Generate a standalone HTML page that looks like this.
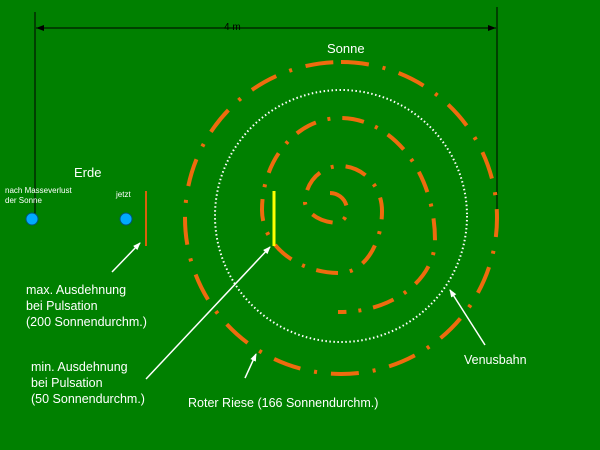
<!DOCTYPE html>
<html><head><meta charset="utf-8"><style>
html,body{margin:0;padding:0;background:#008000;}
svg{display:block;}
text{font-family:"Liberation Sans",sans-serif;fill:#fff;}
</style></head><body>
<svg width="600" height="450" viewBox="0 0 600 450" xmlns="http://www.w3.org/2000/svg">
<rect width="600" height="450" fill="#008000"/>
<defs>
<marker id="ab" markerWidth="8" markerHeight="6" refX="8" refY="3" orient="auto" markerUnits="userSpaceOnUse"><path d="M0,0 L8,3 L0,6 z" fill="#000"/></marker>
<marker id="aw" markerWidth="8" markerHeight="6" refX="7" refY="3" orient="auto" markerUnits="userSpaceOnUse"><path d="M0,0 L8,3 L0,6 z" fill="#fff"/></marker>
</defs>
<line x1="35" y1="12" x2="35" y2="218" stroke="#000" stroke-width="1"/>
<line x1="497" y1="7" x2="497" y2="220" stroke="#000" stroke-width="1"/>
<line x1="36" y1="28" x2="496" y2="28" stroke="#000" stroke-width="1" marker-end="url(#ab)"/>
<line x1="496" y1="28" x2="36" y2="28" stroke="#000" stroke-width="1" marker-end="url(#ab)"/>
<text x="224" y="30" font-size="10" style="fill:#000">4 m</text>
<circle cx="341" cy="216" r="126" fill="none" stroke="#fff" stroke-width="2" stroke-dasharray="1.5 2.5"/>
<path d="M330,193 A17,17 0 0 1 347,210 A12,13 0 0 1 338,223 A35,23 0 0 1 305,203 A35,37 0 0 1 340,166 A42,45 0 0 1 382,211 A42,62 0 0 1 340,273 A78,63 0 0 1 262,210 A78,92 0 0 1 340,118 A95,122 0 0 1 435,240 A95,72 0 0 1 338,312"
 fill="none" stroke="#ee6b0e" stroke-width="4" stroke-dasharray="22 12 3 12"/>
<circle cx="341" cy="218" r="156" fill="none" stroke="#ee6b0e" stroke-width="4" stroke-dasharray="28 14 3 14" transform="rotate(-90 341 218)"/>
<circle cx="32" cy="219" r="6" fill="#00aaff" stroke="#005577" stroke-width="1"/>
<circle cx="126" cy="219" r="6" fill="#00aaff" stroke="#005577" stroke-width="1"/>
<line x1="146" y1="191" x2="146" y2="246" stroke="#d8620c" stroke-width="2"/>
<line x1="274" y1="191" x2="274" y2="246" stroke="#ffff00" stroke-width="3"/>
<line x1="112" y1="272" x2="140" y2="243" stroke="#fff" stroke-width="1.5" marker-end="url(#aw)"/>
<line x1="146" y1="379" x2="270" y2="247" stroke="#fff" stroke-width="1.5" marker-end="url(#aw)"/>
<line x1="245" y1="378" x2="256" y2="354" stroke="#fff" stroke-width="1.5" marker-end="url(#aw)"/>
<line x1="485" y1="345" x2="450" y2="290" stroke="#fff" stroke-width="1.5" marker-end="url(#aw)"/>
<text x="327" y="53" font-size="13">Sonne</text>
<text x="74" y="177" font-size="13">Erde</text>
<text x="5" y="193" font-size="8">nach Masseverlust</text>
<text x="5" y="203" font-size="8">der Sonne</text>
<text x="116" y="197" font-size="8">jetzt</text>
<text x="26" y="294" font-size="12.5">max. Ausdehnung</text>
<text x="26" y="310" font-size="12.5">bei Pulsation</text>
<text x="26" y="326" font-size="12.5">(200 Sonnendurchm.)</text>
<text x="31" y="371" font-size="12.5">min. Ausdehnung</text>
<text x="31" y="387" font-size="12.5">bei Pulsation</text>
<text x="31" y="403" font-size="12.5">(50 Sonnendurchm.)</text>
<text x="188" y="407" font-size="12.5">Roter Riese (166 Sonnendurchm.)</text>
<text x="464" y="364" font-size="12.5">Venusbahn</text>
</svg>
</body></html>
